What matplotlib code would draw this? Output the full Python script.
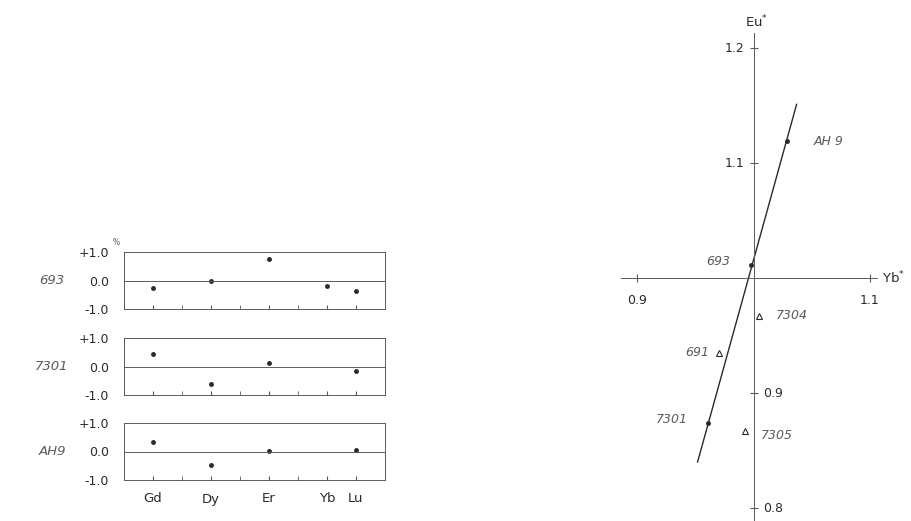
import matplotlib
matplotlib.use("Agg")
import matplotlib.pyplot as plt

# left: deviations (%) per element for three samples
elements = ["Gd", "Dy", "Er", "Yb", "Lu"]
element_pos = [0, 2, 4, 6, 7]
minor_pos = [1, 3, 5]
samples = ["693", "7301", "AH9"]
dev_693 = [-0.27, 0.0, 0.77, -0.18, -0.36]
dev_7301 = [0.45, -0.62, 0.13, None, -0.16]
dev_ah9 = [0.33, -0.47, 0.03, None, 0.07]
dev_ticks = [1.0, 0.0, -1.0]
dev_ticklabels = ["+1.0", "0.0", "-1.0"]

# right: Eu* against Yb*
dot_names = ["AH 9", "693", "7301"]
dot_yb = [1.029, 0.998, 0.961]
dot_eu = [1.119, 1.011, 0.874]
tri_names = ["7304", "691", "7305"]
tri_yb = [1.005, 0.970, 0.993]
tri_eu = [0.967, 0.935, 0.867]
fit_yb = [0.952, 1.037]
fit_eu = [0.840, 1.151]
yb_ticks = [0.9, 1.1]
eu_ticks_up = [1.2, 1.1]
eu_ticks_down = [0.9, 0.8]

W, H = 912, 521
fig = plt.figure(figsize=(W / 100, H / 100), dpi=100)
ink = "#2a2a2a"
soft = "#5a5a5a"

def px_axes(x0, y0, x1, y1):
    return fig.add_axes([x0 / W, (H - y1) / H, (x1 - x0) / W, (y1 - y0) / H])

panel_rows = [(252, 309), (338, 395), (423, 480)]
all_dev = [dev_693, dev_7301, dev_ah9]
for i, (top, bot) in enumerate(panel_rows):
    ax = px_axes(124, top, 385, bot)
    vals = all_dev[i]
    xs = [p for p, v in zip(element_pos, vals) if v is not None]
    ys = [v for v in vals if v is not None]
    ax.plot(xs, ys, "o", color=ink, markersize=2.5)
    ax.axhline(0, color=soft, lw=0.7)
    ax.set_xlim(-1, 8)
    ax.set_ylim(-1.0, 1.0)
    ax.set_yticks(dev_ticks)
    ax.set_yticklabels(dev_ticklabels)
    ax.set_xticks(element_pos)
    ax.set_xticks(minor_pos, minor=True)
    ax.tick_params(axis="y", length=0, pad=11, labelsize=9, labelcolor=ink)
    ax.tick_params(axis="x", which="both", direction="in", length=3, color=soft, top=False)
    if i == 2:
        ax.set_xticklabels(elements)
        ax.tick_params(axis="x", labelsize=9.5, pad=9, labelcolor=ink)
    else:
        ax.set_xticklabels([])
    for s in ax.spines.values():
        s.set_color(soft)
        s.set_linewidth(0.7)
    ax.text(-0.276, 0.5, samples[i], transform=ax.transAxes, ha="center", va="center",
            fontsize=9.5, style="italic", color=soft)
    if i == 0:
        ax.text(-0.03, 1.17, "%", transform=ax.transAxes, ha="center", va="center",
                fontsize=5.5, color=soft)

# right: crossing axes at (1, 1)
ax = px_axes(600, 0, 900, 521)
ax.set_xlim(1 + (600 - 753.5) / 1165, 1 + (900 - 753.5) / 1165)
ax.set_ylim(1 - 243 / 1150, 1 + 278 / 1150)
for k in ["top", "right"]:
    ax.spines[k].set_visible(False)
ax.spines["left"].set_position(("data", 1.0))
ax.spines["bottom"].set_position(("data", 1.0))
ax.spines["left"].set_bounds(0.79, 1.213)
ax.spines["bottom"].set_bounds(0.886, 1.106)
for k in ["left", "bottom"]:
    ax.spines[k].set_color(soft)
    ax.spines[k].set_linewidth(0.7)
ax.set_xticks(yb_ticks)
ax.set_yticks(eu_ticks_up + eu_ticks_down)
ax.tick_params(which="both", direction="inout", length=6, color=soft, labelleft=False, labelbottom=False)

ax.plot(fit_yb, fit_eu, color=ink, lw=1.0)
ax.plot(dot_yb, dot_eu, "o", color=ink, markersize=2.5)
ax.plot(tri_yb, tri_eu, "^", mfc="white", mec=ink, mew=0.8, markersize=4)

for v in yb_ticks:
    ax.text(v, 0.986, f"{v:.1f}", ha="center", va="top", fontsize=9, color=ink)
for v in eu_ticks_up:
    ax.text(0.992, v, f"{v:.1f}", ha="right", va="center", fontsize=9, color=ink)
for v in eu_ticks_down:
    ax.text(1.008, v, f"{v:.1f}", ha="left", va="center", fontsize=9, color=ink)
ax.text(1.003, 1.223, "Eu$^{*}$", ha="center", va="center", fontsize=9.5, color=ink)
ax.text(1.11, 1.0, "Yb$^{*}$", ha="left", va="center", fontsize=9.5, color=ink)

lab = dict(fontsize=9, style="italic", color=soft, va="center")
ax.text(dot_yb[0] + 0.023, dot_eu[0], dot_names[0], ha="left", **lab)
ax.text(dot_yb[1] - 0.018, dot_eu[1] + 0.003, dot_names[1], ha="right", **lab)
ax.text(dot_yb[2] - 0.017, dot_eu[2] + 0.003, dot_names[2], ha="right", **lab)
ax.text(tri_yb[0] + 0.014, tri_eu[0], tri_names[0], ha="left", **lab)
ax.text(tri_yb[1] - 0.008, tri_eu[1], tri_names[1], ha="right", **lab)
ax.text(tri_yb[2] + 0.013, tri_eu[2] - 0.004, tri_names[2], ha="left", **lab)

fig.savefig("out.png", dpi=100)
